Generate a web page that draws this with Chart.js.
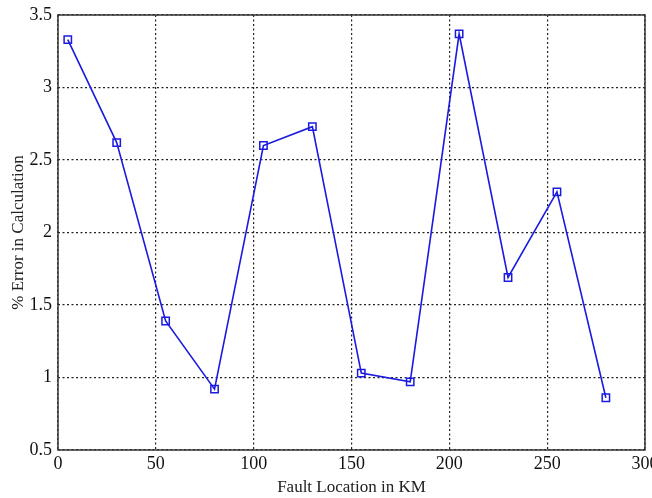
<!DOCTYPE html>
<html>
<head>
<meta charset="utf-8">
<script src="https://cdn.jsdelivr.net/npm/chart.js@4"></script>
<style>
  html, body { margin: 0; padding: 0; background: #fff; }
  #wrap { width: 652px; height: 498px; }
</style>
</head>
<body>
<div id="wrap"><canvas id="errChart" width="652" height="498"></canvas></div>
<script>
// fault distance (km) and calculation error (%)
const faultKm = [5, 30, 55, 80, 105, 130, 155, 180, 205, 230, 255, 280];
const errorPct = [3.33, 2.62, 1.39, 0.92, 2.60, 2.73, 1.03, 0.97, 3.37, 1.69, 2.28, 0.86];

const xTitle = 'Fault Location in KM';
const yTitle = '% Error in Calculation';

const serif = "'Liberation Serif', 'DejaVu Serif', serif";

// solid box round the plot area
const boxPlugin = {
  id: 'box',
  afterDatasetsDraw(chart) {
    const { ctx, chartArea: a } = chart;
    ctx.save();
    ctx.strokeStyle = '#333';
    ctx.lineWidth = 1.5;
    ctx.strokeRect(a.left, a.top, a.right - a.left, a.bottom - a.top);
    ctx.restore();
  }
};

const gridStyle = {
  color: '#222',
  lineWidth: 1.2,
  drawTicks: false
};

const ctx = document.getElementById('errChart').getContext('2d');
new Chart(ctx, {
  type: 'scatter',
  data: {
    datasets: [{
      data: faultKm.map((x, i) => ({ x: x, y: errorPct[i] })),
      showLine: true,
      borderColor: '#1a1ae0',
      borderWidth: 1.6,
      pointStyle: 'rect',
      pointRadius: 5.2,
      pointBorderWidth: 1.5,
      pointBackgroundColor: 'rgba(255,255,255,0)',
      pointBorderColor: '#1a1ae0'
    }]
  },
  options: {
    responsive: false,
    animation: false,
    layout: { padding: { left: 0, top: 15, right: 7, bottom: 0 } },
    plugins: { legend: { display: false }, tooltip: { enabled: false } },
    scales: {
      x: {
        type: 'linear',
        min: 0, max: 300,
        border: { display: false, dash: [2, 2.5] },
        grid: gridStyle,
        ticks: { stepSize: 50, padding: 3, color: '#111', font: { family: serif, size: 18 } },
        title: { display: true, text: xTitle, color: '#222', font: { family: serif, size: 17 }, padding: { top: 0, bottom: 0 } },
        afterFit(scale) {
          scale.height = 48;
          // let the last tick label hang past the plot edge
          scale.paddingRight = 0;
          scale.paddingLeft = 0;
        }
      },
      y: {
        min: 0.5, max: 3.5,
        border: { display: false, dash: [2, 2.5] },
        grid: gridStyle,
        ticks: {
          stepSize: 0.5, padding: 6, color: '#111',
          font: { family: serif, size: 18 },
          callback: v => String(v)
        },
        title: { display: true, text: yTitle, color: '#222', font: { family: serif, size: 17 }, padding: { top: 8, bottom: 0 } },
        afterFit(scale) {
          scale.width = 58;
          scale.paddingTop = 0;
        }
      }
    }
  },
  plugins: [boxPlugin]
});
</script>
</body>
</html>
